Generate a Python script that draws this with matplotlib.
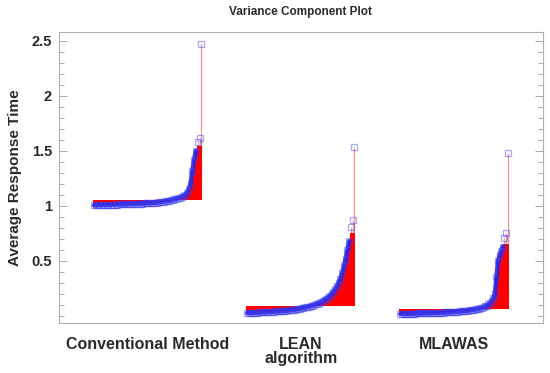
import numpy as np
import matplotlib
matplotlib.use("Agg")
import matplotlib.pyplot as plt
from matplotlib.ticker import MultipleLocator

plt.rcParams["font.family"] = ["Liberation Sans", "DejaVu Sans"]

# groups and sorted response times
groups = ["Conventional Method", "LEAN\nalgorithm", "MLAWAS"]

conventional = [
    1.005, 1.005, 1.007, 1.008, 1.008, 1.009, 1.010, 1.010, 1.010, 1.011,
    1.012, 1.012, 1.013, 1.013, 1.014, 1.014, 1.015, 1.015, 1.016, 1.016,
    1.017, 1.018, 1.018, 1.019, 1.020, 1.021, 1.022, 1.022, 1.023, 1.024,
    1.025, 1.026, 1.027, 1.028, 1.030, 1.031, 1.033, 1.035, 1.037, 1.040,
    1.042, 1.045, 1.048, 1.052, 1.056, 1.060, 1.065, 1.070, 1.076, 1.083,
    1.090, 1.100, 1.120, 1.150, 1.200, 1.320, 1.420, 1.500, 1.580, 1.620,
    2.470,
]
lean = [
    0.025, 0.026, 0.027, 0.028, 0.029, 0.030, 0.031, 0.032, 0.033, 0.034,
    0.035, 0.036, 0.037, 0.038, 0.039, 0.040, 0.041, 0.042, 0.043, 0.044,
    0.045, 0.047, 0.048, 0.050, 0.052, 0.054, 0.056, 0.058, 0.061, 0.064,
    0.067, 0.070, 0.074, 0.078, 0.082, 0.086, 0.090, 0.095, 0.100, 0.106,
    0.112, 0.119, 0.127, 0.136, 0.146, 0.157, 0.170, 0.185, 0.200, 0.220,
    0.245, 0.270, 0.300, 0.340, 0.390, 0.450, 0.520, 0.600, 0.680, 0.810,
    0.870, 1.540,
]
mlawas = [
    0.018, 0.018, 0.019, 0.019, 0.020, 0.020, 0.021, 0.021, 0.022, 0.022,
    0.023, 0.023, 0.024, 0.024, 0.025, 0.025, 0.026, 0.026, 0.027, 0.027,
    0.028, 0.028, 0.029, 0.029, 0.030, 0.030, 0.031, 0.031, 0.032, 0.033,
    0.034, 0.035, 0.036, 0.037, 0.038, 0.039, 0.040, 0.041, 0.042, 0.044,
    0.045, 0.047, 0.049, 0.051, 0.053, 0.055, 0.057, 0.060, 0.063, 0.066,
    0.070, 0.075, 0.080, 0.087, 0.095, 0.105, 0.118, 0.135, 0.160, 0.200,
    0.350, 0.500, 0.550, 0.590, 0.630, 0.710, 0.750, 1.480,
]
# reference level of each group (top of the red band)
group_levels = [1.055, 0.09, 0.065]

series = [conventional, lean, mlawas]

fig = plt.figure(figsize=(5.5, 3.73), dpi=100)
ax = fig.add_axes([0.107, 0.134, 0.880, 0.780])

half = 0.35
for g, (vals, level) in enumerate(zip(series, group_levels)):
    vals = np.asarray(vals)
    x = np.linspace(g + 1 - half, g + 1 + half, len(vals))
    cap = np.percentile(vals, 96)
    low = np.minimum(vals, level)
    top = np.minimum(np.maximum(vals, level), cap)
    ax.vlines(x, low, top, color="#ff0000", lw=1.5, zorder=2)
    out = vals > cap
    ax.vlines(x[out], cap, vals[out], color="#f59a9a", lw=1.0, zorder=1)
    ax.plot(x[~out], vals[~out], color="#2424e8", lw=3.2,
            solid_capstyle="round", alpha=0.9, zorder=3)
    ax.plot(x, vals, ls="none", marker="s", ms=4.5, mfc="none",
            mec="#3a3aee", mew=0.9, alpha=0.45, zorder=4)

ax.set_xlim(0.42, 3.58)
ax.set_ylim(-0.064, 2.58)
ax.set_xticks([1, 2, 3])
ax.set_xticklabels(groups, fontsize=11.5, fontweight="bold", color="#2a2a2a",
                   linespacing=0.95)
ax.tick_params(axis="x", length=0, pad=10)

ax.yaxis.set_major_locator(MultipleLocator(0.5))
ax.yaxis.set_minor_locator(MultipleLocator(0.1))
ax.set_yticks([0.5, 1.0, 1.5, 2.0, 2.5])
ax.set_yticklabels(["0.5", "1", "1.5", "2", "2.5"])
ax.tick_params(axis="y", which="both", direction="in", left=True, right=True,
               color="#aaaaaa", width=0.7)
ax.tick_params(axis="y", which="major", length=6, pad=5, labelsize=10.5,
               labelcolor="#2a2a2a")
ax.tick_params(axis="y", which="minor", length=3.5)
for lab in ax.get_yticklabels():
    lab.set_fontweight("bold")

for sp in ax.spines.values():
    sp.set_color("#b0b0b0")
    sp.set_linewidth(0.8)

ax.set_ylabel("Average Response Time", fontsize=11, fontweight="bold",
              color="#2a2a2a", labelpad=7)
fig.text(0.547, 0.968, "Variance Component Plot", ha="center", va="center",
         fontsize=8.5, fontweight="bold", color="#2a2a2a")

fig.savefig("out.png", dpi=100)
